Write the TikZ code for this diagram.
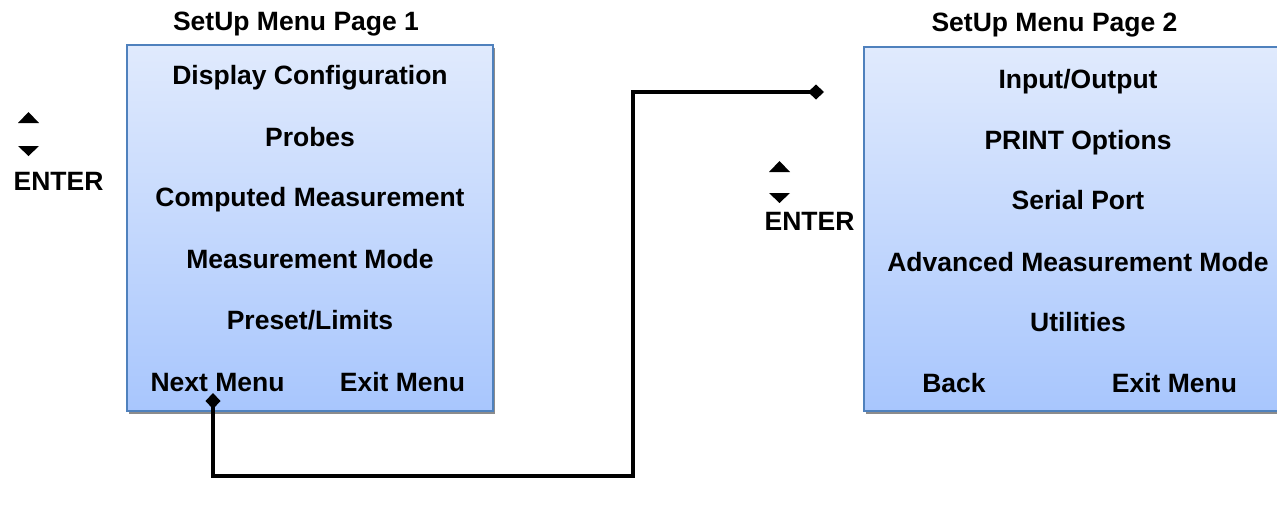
\documentclass[tikz,border=0pt]{standalone}
\usepackage{fontspec}
\setmainfont{Liberation Sans}
\usetikzlibrary{arrows.meta,shadows}

\definecolor{boxtop}{RGB}{224,234,253}
\definecolor{boxbottom}{RGB}{168,198,253}
\definecolor{boxedge}{RGB}{79,129,189}

\tikzset{
  menubox/.style={draw=boxedge, line width=2pt, top color=boxtop, bottom color=boxbottom,
    drop shadow={shadow xshift=2pt, shadow yshift=-3pt, fill=black!45, opacity=1},
    inner sep=0pt},
  lbl/.style={font=\fontsize{26.5}{30}\selectfont\bfseries, inner sep=0pt, anchor=base},
  link/.style={line width=4pt, {Diamond[length=16pt,width=15pt]}-{Diamond[length=16pt,width=15pt]}},
}

\begin{document}
\begin{tikzpicture}[x=1pt,y=-1pt]
\useasboundingbox (0,0) rectangle (1277,506);

% menu panels
\node[menubox, minimum width=366pt, minimum height=366pt] (page1) at (310,228) {};
\node[menubox, minimum width=424pt, minimum height=364pt] (page2) at (1076,229) {};

% panel titles
\node[lbl] (t1) at (296,30) {SetUp Menu Page 1};
\node[lbl] (t2) at (1054.5,31.5) {SetUp Menu Page 2};

% page 1 entries
\node[lbl] (a1) at (310,84)  {Display Configuration};
\node[lbl] (a2) at (310,146) {Probes};
\node[lbl] (a3) at (310,206) {Computed Measurement};
\node[lbl] (a4) at (310,268) {Measurement Mode};
\node[lbl] (a5) at (310,329) {Preset/Limits};
\node[lbl] (next) at (217.5,391) {Next Menu};
\node[lbl] (exit1) at (402.5,391) {Exit Menu};

% page 2 entries
\node[lbl] (b1) at (1078,88)  {Input/Output};
\node[lbl] (b2) at (1078,149) {PRINT Options};
\node[lbl] (b3) at (1078,209) {Serial Port};
\node[lbl] (b4) at (1078,271) {Advanced Measurement Mode};
\node[lbl] (b5) at (1078,331) {Utilities};
\node[lbl] (back) at (954,392) {Back};
\node[lbl] (exit2) at (1174.5,392) {Exit Menu};

% navigation keys
\node[lbl] (enter1) at (58.5,190) {ENTER};
\fill (18,123) -- (39,123) -- (28.5,112) -- cycle;
\fill (18,146) -- (39,146) -- (28.5,156) -- cycle;

\node[lbl] (enter2) at (809.5,230) {ENTER};
\fill (769,172) -- (790,172) -- (779.5,161) -- cycle;
\fill (769,193) -- (790,193) -- (779.5,203) -- cycle;

% link from Next Menu to page 2
\coordinate (c1) at (213,393);
\coordinate (bend) at (633,476);
\coordinate (c2) at (824,92);
\draw[link] (c1) |- (bend) |- (c2);
\end{tikzpicture}
\end{document}
